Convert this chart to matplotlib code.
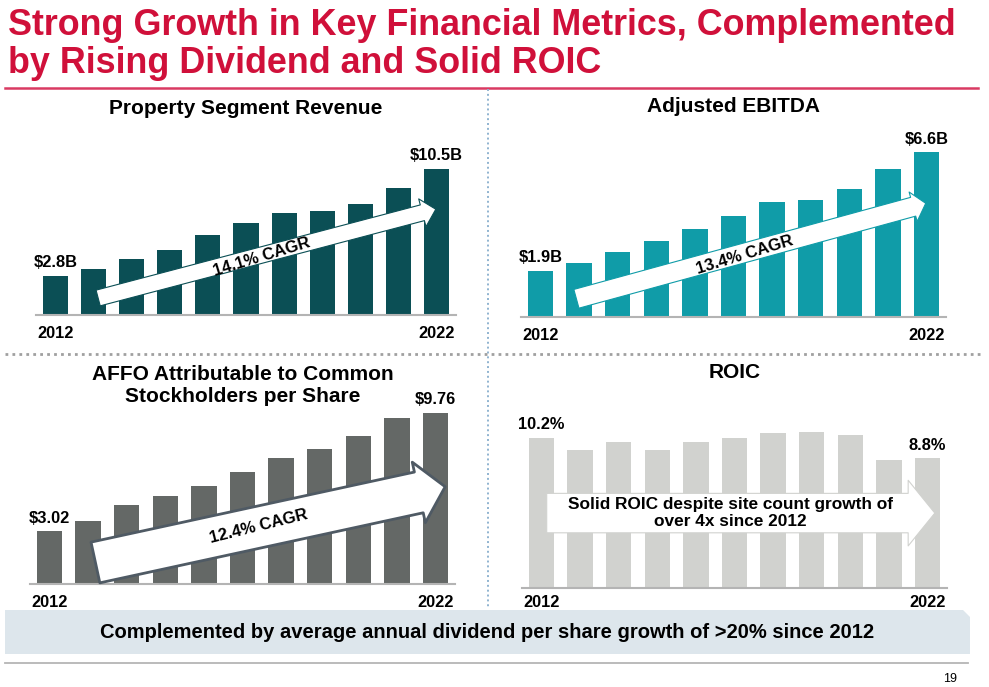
import numpy as np
import matplotlib
matplotlib.use("Agg")
import matplotlib.pyplot as plt
from matplotlib.patches import FancyArrowPatch, Polygon
from matplotlib.lines import Line2D

plt.rcParams['font.family'] = ['Liberation Sans', 'DejaVu Sans']

# ------------------------
# Data
# ------------------------
years = np.arange(2012, 2023)
revenue = [2.8, 3.28, 4.0, 4.68, 5.71, 6.57, 7.32, 7.47, 7.95, 9.1, 10.5]       # $B
ebitda = [1.87, 2.16, 2.61, 3.04, 3.53, 4.05, 4.63, 4.71, 5.12, 5.93, 6.6]        # $B
affo = [3.02, 3.62, 4.49, 5.00, 5.59, 6.38, 7.20, 7.71, 8.45, 9.44, 9.76]        # $ per share
roic = [10.2, 9.36, 9.9, 9.38, 9.88, 10.2, 10.54, 10.56, 10.36, 8.66, 8.8]       # %

revenue_labels = ['$2.8B', '$10.5B']
ebitda_labels = ['$1.9B', '$6.6B']
affo_labels = ['$3.02', '$9.76']
roic_labels = ['10.2%', '8.8%']

cagr_texts = ['14.1% CAGR', '13.4% CAGR', '12.4% CAGR']
roic_note = 'Solid ROIC despite site count growth of\nover 4x since 2012'
banner_text = 'Complemented by average annual dividend per share growth of >20% since 2012'

# ------------------------
# Figure (pixel based layout)
# ------------------------
W, H = 989, 687
fig = plt.figure(figsize=(W / 100, H / 100), dpi=100)
fig.patch.set_facecolor('white')


def fx(x):
    return x / W


def fy(y):
    return 1 - y / H


def panel(left, right, top, base, values, color, labels, title, title_y, year_off=-13):
    ax = fig.add_axes([fx(left), fy(base), (right - left) / W, (base - top) / H])
    ax.bar(np.arange(len(values)), values, width=0.66, color=color, zorder=1)
    ax.set_xlim(-0.5, len(values) - 0.5)
    ax.set_ylim(0, max(values))
    for s in ['top', 'right', 'left']:
        ax.spines[s].set_visible(False)
    ax.spines['bottom'].set_color('#b4b4b4')
    ax.spines['bottom'].set_linewidth(1.5)
    ax.set_xticks([])
    ax.set_yticks([])
    ax.patch.set_alpha(0)

    # first / last value labels
    for i, lab in zip([0, len(values) - 1], labels):
        ax.annotate(lab, (i, values[i]), xytext=(0, 9.4), textcoords='offset points',
                    ha='center', va='center', fontsize=11.8, fontweight='bold',
                    annotation_clip=False)
    # year labels
    for i in [0, len(values) - 1]:
        ax.annotate(str(years[i]), (i, 0), xytext=(0, year_off), textcoords='offset points',
                    ha='center', va='center', fontsize=11.8, fontweight='bold',
                    annotation_clip=False)
    fig.text(fx((left + right) / 2), fy(title_y), title, ha='center', va='center',
             fontsize=15, fontweight='bold', linespacing=1.2)
    return ax


def arrow(ax, start, end, tail, head_w, head_l, edge, lw):
    a = FancyArrowPatch(start, end, mutation_scale=1, shrinkA=0, shrinkB=0,
                        arrowstyle=f'simple,head_length={head_l},head_width={head_w},tail_width={tail}',
                        fc='white', ec=edge, lw=lw, zorder=3, clip_on=False)
    ax.add_patch(a)


# Title
fig.text(fx(8), fy(44.5), 'Strong Growth in Key Financial Metrics, Complemented\nby Rising Dividend and Solid ROIC',
         ha='left', va='center', fontsize=25.8, fontweight='bold', color='#d0103a', linespacing=1.1)
fig.add_artist(Line2D([fx(5), fx(978)], [fy(87.5), fy(87.5)], color='#d93a62', lw=1.8))

# Dividers
fig.add_artist(Line2D([fx(488), fx(488)], [fy(89), fy(608)], color='#8fb3d0', lw=1.4,
                      linestyle=(0, (1, 1.5))))
fig.add_artist(Line2D([fx(5), fx(980)], [fy(353.5), fy(353.5)], color='#a0a0a0', lw=2,
                      linestyle=(0, (1, 1.5))))

# Panels
ax1 = panel(36.4, 455.6, 168.7, 315, revenue, '#0b4f55', revenue_labels,
            'Property Segment Revenue', 108)
ax2 = panel(521.2, 945.8, 152.3, 317.3, ebitda, '#109ca8', ebitda_labels,
            'Adjusted EBITDA', 107)
ax3 = panel(30.2, 454.8, 412.7, 584.3, affo, '#646866', affo_labels,
            'AFFO Attributable to Common\nStockholders per Share', 385.5)
ax4 = panel(522.2, 946.8, 432.3, 587.7, roic, '#d1d2cf', roic_labels,
            'ROIC', 373, year_off=-10.5)

# CAGR arrows
arrow(ax1, (1.12, 1.22), (9.98, 7.59), 11.7, 20.7, 10, '#0b4f55', 0.8)
ax1.text(5.41, 4.19, cagr_texts[0], rotation=17, ha='center', va='center',
         fontsize=12, fontweight='bold', zorder=4)

arrow(ax2, (0.93, 0.74), (9.98, 4.56), 14, 22, 9.4, '#109ca8', 0.8)
ax2.text(5.30, 2.49, cagr_texts[1], rotation=17, ha='center', va='center',
         fontsize=12, fontweight='bold', zorder=4)

arrow(ax3, (1.19, 1.24), (10.25, 5.55), 30, 44.6, 19.4, '#4f5a64', 2)
ax3.text(5.41, 3.28, cagr_texts[2], rotation=14, ha='center', va='center',
         fontsize=12, fontweight='bold', zorder=4)

arrow(ax4, (0.135, 5.07), (10.19, 5.07), 28.4, 47.3, 19.2, '#d1d2cf', 0.8)
ax4.text(4.90, 5.07, roic_note, ha='center', va='center', fontsize=12.4,
         fontweight='bold', linespacing=1.1, zorder=4)

# Bottom banner (behind the axes so year labels stay visible)
fig.add_artist(Polygon([(fx(5), fy(610)), (fx(963), fy(610)), (fx(970), fy(617)),
                        (fx(970), fy(654)), (fx(5), fy(654))],
                       closed=True, facecolor='#dde6ec', edgecolor='none', zorder=-1))
fig.text(fx(487), fy(633), banner_text, ha='center', va='center',
         fontsize=14.5, fontweight='bold')
fig.add_artist(Line2D([fx(5), fx(968)], [fy(663), fy(663)], color='#b5b5b5', lw=1.3))
fig.text(fx(950), fy(679), '19', ha='center', va='center', fontsize=9)

fig.savefig('out.png', dpi=100)
